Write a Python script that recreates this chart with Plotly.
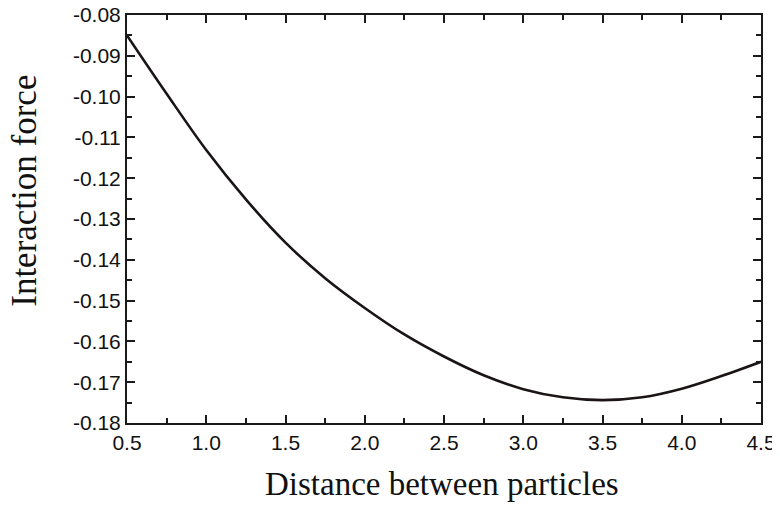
import plotly.graph_objects as go

distance = [0.5, 0.75, 1.0, 1.25, 1.5, 1.75, 2.0, 2.25, 2.5, 2.75, 3.0, 3.25, 3.5, 3.75, 4.0, 4.25, 4.5]
force = [-0.0850, -0.0993, -0.1131, -0.1252, -0.1358, -0.1445, -0.1518, -0.1583, -0.1637, -0.1683, -0.1717, -0.1737, -0.1744, -0.1737, -0.1716, -0.1685, -0.1650]

x_ticks = [0.5, 1.0, 1.5, 2.0, 2.5, 3.0, 3.5, 4.0, 4.5]
x_labels = ["0.5", "1.0", "1.5", "2.0", "2.5", "3.0", "3.5", "4.0", "4.5"]
y_ticks = [-0.08, -0.09, -0.10, -0.11, -0.12, -0.13, -0.14, -0.15, -0.16, -0.17, -0.18]
y_labels = ["-0.08", "-0.09", "-0.10", "-0.11", "-0.12", "-0.13", "-0.14", "-0.15", "-0.16", "-0.17", "-0.18"]

fig = go.Figure()
fig.add_trace(go.Scatter(x=distance, y=force, mode="lines",
                         line=dict(color="#1a1414", width=2.6, shape="spline", smoothing=1.0),
                         showlegend=False))

axis_common = dict(
    showgrid=False, zeroline=False, showline=True, linecolor="#1a1a1a", linewidth=2,
    mirror="ticks", ticks="inside", ticklen=8, tickwidth=2, tickcolor="#1a1a1a",
    tickfont=dict(family="Liberation Sans, Arial", size=21, color="#111"),
    automargin=False, ticklabeloverflow="allow",
)

fig.update_xaxes(range=[0.5, 4.5], tickvals=x_ticks, ticktext=x_labels,
                 minor=dict(ticks="inside", ticklen=5, tickwidth=1.5, tickcolor="#1a1a1a", dtick=0.25, tick0=0.5),
                 **axis_common)
fig.update_yaxes(range=[-0.18, -0.08], tickvals=y_ticks, ticktext=y_labels,
                 minor=dict(ticks="inside", ticklen=5, tickwidth=1.5, tickcolor="#1a1a1a", dtick=0.005, tick0=-0.08),
                 **axis_common)

title_font = "Liberation Serif, Times New Roman"
fig.add_annotation(text="Distance between particles", xref="paper", yref="paper",
                   x=0.497, y=-0.149, xanchor="center", yanchor="middle", showarrow=False,
                   font=dict(family=title_font, size=33, color="#111"))
fig.add_annotation(text="Interaction force", xref="paper", yref="paper",
                   x=-0.161, y=0.569, xanchor="center", yanchor="middle", showarrow=False, textangle=-90,
                   font=dict(family=title_font, size=35, color="#111"))

fig.update_layout(width=780, height=507, margin=dict(l=119, r=27, t=7, b=92),
                  plot_bgcolor="white", paper_bgcolor="white")

fig.write_html("out.html")
